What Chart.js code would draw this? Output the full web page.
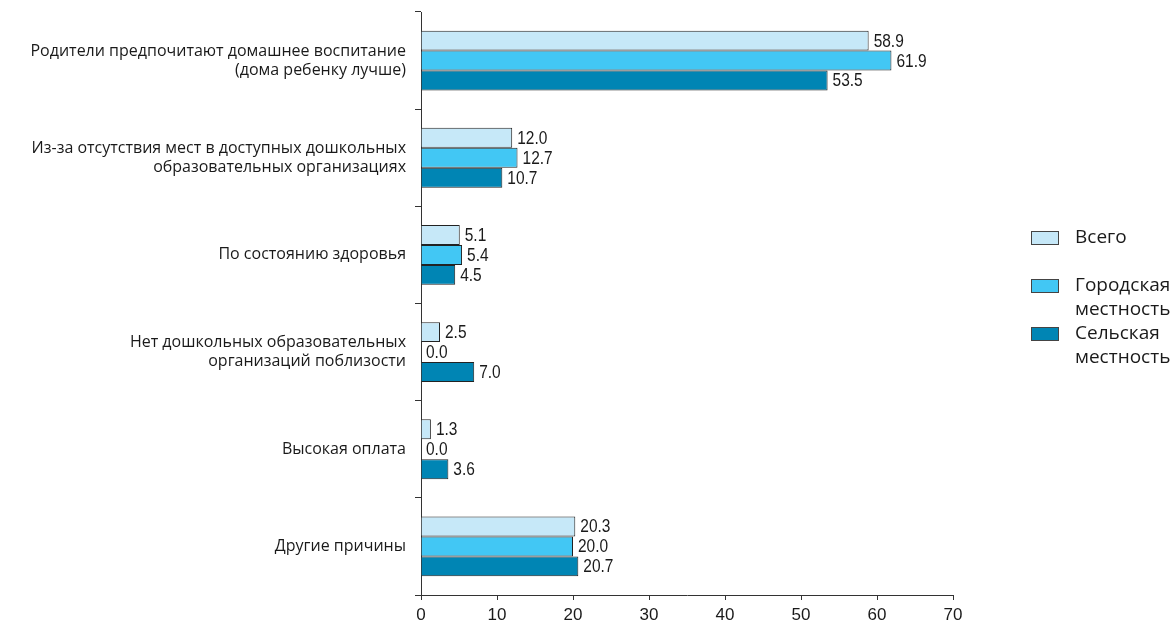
<!DOCTYPE html>
<html lang="ru">
<head>
    <meta charset="UTF-8">
    <title>Причины непосещения дошкольных организаций</title>
    <script src="https://cdn.jsdelivr.net/npm/chart.js"></script>
    <style>
        body { margin: 0; padding: 0; background: #fff; }
        .wrap { width: 1173px; height: 626px; position: relative; }
    </style>
</head>
<body>
    <div class="wrap">
        <canvas id="reasonsChart" width="1173" height="626"></canvas>
    </div>

    <script>
        // categories (multi-line labels)
        const reasons = [
            ['Родители предпочитают домашнее воспитание', '(дома ребенку лучше)'],
            ['Из-за отсутствия мест в доступных дошкольных', 'образовательных организациях'],
            'По состоянию здоровья',
            ['Нет дошкольных образовательных', 'организаций поблизости'],
            'Высокая оплата',
            'Другие причины'
        ];

        const seriesNames = [['Всего'], ['Городская', 'местность'], ['Сельская', 'местность']];
        const totalValues = [58.9, 12.0, 5.1, 2.5, 1.3, 20.3];
        const urbanValues = [61.9, 12.7, 5.4, 0.0, 0.0, 20.0];
        const ruralValues = [53.5, 10.7, 4.5, 7.0, 3.6, 20.7];
        const xTicks = [0, 10, 20, 30, 40, 50, 60, 70];

        const colors = ['#c6e8f8', '#42c7f4', '#0085b4'];
        const sans = '"Liberation Sans", Arial, sans-serif';
        const humanist = '"Open Sans", "Noto Sans", sans-serif';

        // value labels to the right of each bar (squeezed to look condensed)
        const valueLabels = {
            id: 'valueLabels',
            afterDatasetsDraw(chart) {
                const ctx = chart.ctx;
                ctx.save();
                ctx.font = '18px ' + sans;
                ctx.fillStyle = '#1a1a1a';
                ctx.textAlign = 'left';
                ctx.textBaseline = 'middle';
                chart.data.datasets.forEach((ds, i) => {
                    chart.getDatasetMeta(i).data.forEach((bar, j) => {
                        const x = bar.x + 5, y = bar.y + 1;
                        ctx.save();
                        ctx.translate(x, y);
                        ctx.scale(0.86, 1);
                        ctx.fillText(ds.data[j].toFixed(1), 0, 0);
                        ctx.restore();
                    });
                });
                ctx.restore();
            }
        };

        // legend on the right with wrapped names
        const sideLegend = {
            id: 'sideLegend',
            afterDraw(chart) {
                const ctx = chart.ctx;
                ctx.save();
                ctx.font = '19px ' + humanist;
                ctx.textBaseline = 'middle';
                const tops = [238, 286, 334];
                chart.data.datasets.forEach((ds, i) => {
                    const y = tops[i];
                    ctx.fillStyle = ds.backgroundColor;
                    ctx.fillRect(1031.5, y - 6.5, 27, 13);
                    ctx.strokeStyle = '#444';
                    ctx.lineWidth = 1;
                    ctx.strokeRect(1031.5, y - 6.5, 27, 13);
                    ctx.fillStyle = '#1a1a1a';
                    seriesNames[i].forEach((line, k) => {
                        ctx.fillText(line, 1075, y + k * 24);
                    });
                });
                ctx.restore();
            }
        };

        const ctx = document.getElementById('reasonsChart').getContext('2d');
        new Chart(ctx, {
            type: 'bar',
            data: {
                labels: reasons,
                datasets: [
                    { label: 'Всего', data: totalValues, backgroundColor: colors[0] },
                    { label: 'Городская местность', data: urbanValues, backgroundColor: colors[1] },
                    { label: 'Сельская местность', data: ruralValues, backgroundColor: colors[2] }
                ].map(d => Object.assign(d, {
                    borderColor: '#222',
                    borderWidth: 1,
                    categoryPercentage: 0.615,
                    barPercentage: 1.0
                }))
            },
            options: {
                indexAxis: 'y',
                responsive: false,
                animation: false,
                layout: { padding: { top: 12, right: 220, bottom: 0, left: 0 } },
                plugins: {
                    legend: { display: false },
                    tooltip: { enabled: false }
                },
                scales: {
                    y: {
                        afterFit: s => {
                            s.width = 421;
                            s.paddingTop = 0;
                            s.paddingBottom = 0;
                        },
                        grid: {
                            drawOnChartArea: false,
                            offset: true,
                            tickLength: 6,
                            color: '#333'
                        },
                        border: { display: true, color: '#333', width: 1 },
                        ticks: {
                            padding: 9,
                            color: '#1a1a1a',
                            font: { family: humanist, size: 16, lineHeight: 1.2 }
                        }
                    },
                    x: {
                        min: 0,
                        max: 70,
                        afterFit: s => { s.height = 31; },
                        afterBuildTicks: s => { s.ticks = xTicks.map(v => ({ value: v })); },
                        grid: {
                            drawOnChartArea: false,
                            tickLength: 5,
                            color: '#333'
                        },
                        border: { display: true, color: '#333', width: 1 },
                        ticks: {
                            padding: 5,
                            color: '#1a1a1a',
                            font: { family: sans, size: 17 }
                        }
                    }
                }
            },
            plugins: [valueLabels, sideLegend]
        });
    </script>
</body>
</html>
